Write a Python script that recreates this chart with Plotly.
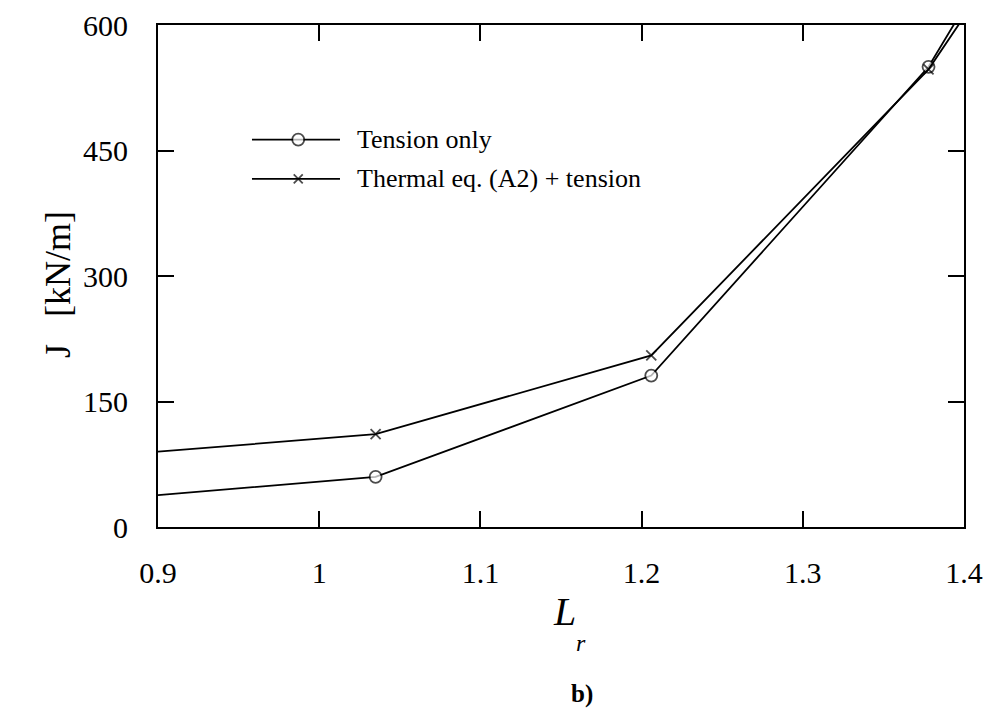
import plotly.graph_objects as go

# Limit-load ratio L_r and J-integral values [kN/m]
lr = [0.9, 1.035, 1.206, 1.378, 1.42]
j_tension = [38, 60, 181, 550, 685]
lr_thermal = [0.9, 1.035, 1.206, 1.378, 1.42]
j_thermal = [90, 111, 205, 547, 667]

series_names = ["Tension only", "Thermal eq. (A2) + tension"]
x_ticks = [0.9, 1.0, 1.1, 1.2, 1.3, 1.4]
x_tick_text = ["0.9", "1", "1.1", "1.2", "1.3", "1.4"]
y_ticks = [0, 150, 300, 450, 600]
y_tick_text = ["0", "150", "300", "450", "600"]

X_RANGE = [0.9, 1.4]
Y_RANGE = [0, 600]

W, H = 985, 715
ML, MR, MT, MB = 158, 21, 25, 188
PW, PH = W - ML - MR, H - MT - MB

SERIF = "Liberation Serif"
LW = 1.8


def px(x):
    return (x - ML) / PW


def py(y):
    return (H - MB - y) / PH


def marker_sizes(xs, size):
    # markers only on points inside the visible L_r window
    return [size if X_RANGE[0] < v < X_RANGE[1] else 0 for v in xs]


fig = go.Figure()

fig.add_trace(go.Scatter(
    x=lr, y=j_tension, mode="lines+markers", name=series_names[0],
    line=dict(color="black", width=LW),
    marker=dict(symbol="circle", size=marker_sizes(lr, 12), color="white",
                line=dict(color="black", width=LW)),
    showlegend=False,
))
fig.add_trace(go.Scatter(
    x=lr_thermal, y=j_thermal, mode="lines+markers", name=series_names[1],
    line=dict(color="black", width=LW),
    marker=dict(symbol="x-thin", size=marker_sizes(lr_thermal, 10), color="black",
                line=dict(color="black", width=LW)),
    showlegend=False,
))

# Legend drawn inside the plot: sample line with centred marker, then label
legend_rows = [
    (463, "circle", 12, "white"),
    (416, "x-thin", 9, "black"),
]
for (yv, sym, sz, fill), name in zip(legend_rows, series_names):
    fig.add_trace(go.Scatter(
        x=[0.9583, 0.9870, 1.0129], y=[yv, yv, yv], mode="lines+markers",
        line=dict(color="black", width=LW),
        marker=dict(symbol=sym, size=[0, sz, 0], color=fill,
                    line=dict(color="black", width=LW)),
        showlegend=False, hoverinfo="skip",
    ))
    fig.add_annotation(x=1.022, y=yv, xref="x", yref="y", text=name,
                       showarrow=False, xanchor="left", yanchor="middle",
                       font=dict(family=SERIF, size=26, color="black"))

tick_font = dict(family=SERIF, size=30, color="black")
axis_common = dict(
    showline=True, linecolor="black", linewidth=2, mirror="ticks",
    ticks="inside", ticklen=16, tickwidth=2, tickcolor="black",
    showgrid=False, zeroline=False, automargin=False,
)

fig.update_xaxes(range=X_RANGE, tickmode="array", tickvals=x_ticks,
                 ticktext=x_tick_text, tickfont=tick_font,
                 ticklabelstandoff=18, **axis_common)
fig.update_yaxes(range=Y_RANGE, tickmode="array", tickvals=y_ticks,
                 ticktext=y_tick_text, tickfont=tick_font,
                 ticklabelstandoff=22, **axis_common)

# Axis titles and panel caption
fig.add_annotation(x=px(36), y=py(351), xref="paper", yref="paper", text="J",
                   textangle=-90, showarrow=False,
                   font=dict(family=SERIF, size=36, color="black"))
fig.add_annotation(x=px(36), y=py(264), xref="paper", yref="paper", text="[kN/m]",
                   textangle=-90, showarrow=False,
                   font=dict(family=SERIF, size=36, color="black"))
fig.add_annotation(x=px(564), y=py(636), xref="paper", yref="paper", text="<i>L</i>",
                   showarrow=False, font=dict(family=SERIF, size=40, color="black"))
fig.add_annotation(x=px(581), y=py(658), xref="paper", yref="paper", text="<i>r</i>",
                   showarrow=False, font=dict(family=SERIF, size=24, color="black"))
fig.add_annotation(x=px(582), y=py(710), xref="paper", yref="paper", text="<b>b)</b>",
                   showarrow=False, font=dict(family=SERIF, size=25, color="black"))

fig.update_layout(
    width=W, height=H,
    margin=dict(l=ML, r=MR, t=MT, b=MB, autoexpand=False),
    paper_bgcolor="white", plot_bgcolor="white",
    font=dict(family=SERIF, color="black"),
    showlegend=False,
)

fig.write_html("out.html")
